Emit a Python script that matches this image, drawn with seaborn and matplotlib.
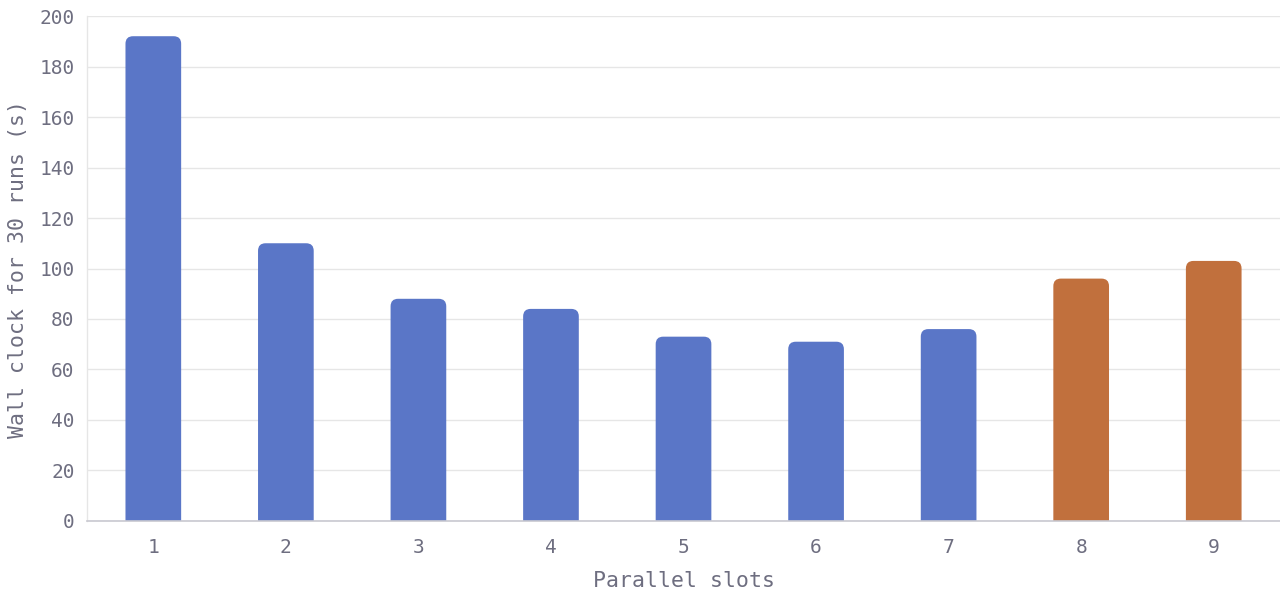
import matplotlib
matplotlib.use("Agg")
import seaborn as sns
import pandas as pd
import matplotlib.pyplot as plt
from matplotlib.patches import FancyBboxPatch

slots = ["1", "2", "3", "4", "5", "6", "7", "8", "9"]
wall_clock = [192, 110, 88, 84, 73, 71, 76, 96, 103]
group = ["ok", "ok", "ok", "ok", "ok", "ok", "ok", "slow", "slow"]
palette = {"ok": "#5a76c7", "slow": "#c1703d"}

text_color = "#6e6e80"

sns.set_theme(style="white")
plt.rcParams["font.family"] = ["DejaVu Sans Mono", "DejaVu Sans"]

df = pd.DataFrame({"slots": slots, "wall": wall_clock, "group": group})

fig = plt.figure(figsize=(12.8, 6), dpi=100)
ax = fig.add_axes([0.068, 0.1317, 0.932, 0.8416])

sns.barplot(data=df, x="slots", y="wall", hue="group", palette=palette,
            dodge=False, width=0.42, saturation=1, legend=False, ax=ax)

ax.set_xlim(-0.5, len(slots) - 0.5)
ax.set_ylim(0, 200)
ax.set_yticks(range(0, 201, 20))

# swap plain bars for ones with rounded tops
fig.canvas.draw()
bbox = ax.get_window_extent()
xpx = bbox.width / (len(slots))
ypx = bbox.height / 200.0
aspect = xpx / ypx
radius = 7.5 / xpx
for p in list(ax.patches):
    x, w, h = p.get_x(), p.get_width(), p.get_height()
    if h <= 0:
        continue
    ext = 10
    rb = FancyBboxPatch((x, -ext), w, h + ext,
                        boxstyle=f"round,pad=0,rounding_size={radius}",
                        mutation_aspect=aspect,
                        facecolor=p.get_facecolor(), edgecolor="none",
                        zorder=2)
    ax.add_patch(rb)
    p.remove()

ax.grid(axis="y", color="#e6e6e6", linewidth=1)
ax.set_axisbelow(True)
for s in ["top", "right"]:
    ax.spines[s].set_visible(False)
ax.spines["left"].set_color("#e6e6e6")
ax.spines["bottom"].set_color("#c8c8d0")
ax.spines["left"].set_linewidth(1)
ax.spines["bottom"].set_linewidth(1.2)

ax.tick_params(axis="y", length=0, pad=9, labelsize=14, labelcolor=text_color)
ax.tick_params(axis="x", length=0, pad=12, labelsize=14, labelcolor=text_color)

ax.set_xlabel("Parallel slots", fontsize=15.5, color=text_color, labelpad=10)
ax.set_ylabel("Wall clock for 30 runs (s)", fontsize=15.5, color=text_color,
              labelpad=8)

fig.savefig("out.png", dpi=100)
